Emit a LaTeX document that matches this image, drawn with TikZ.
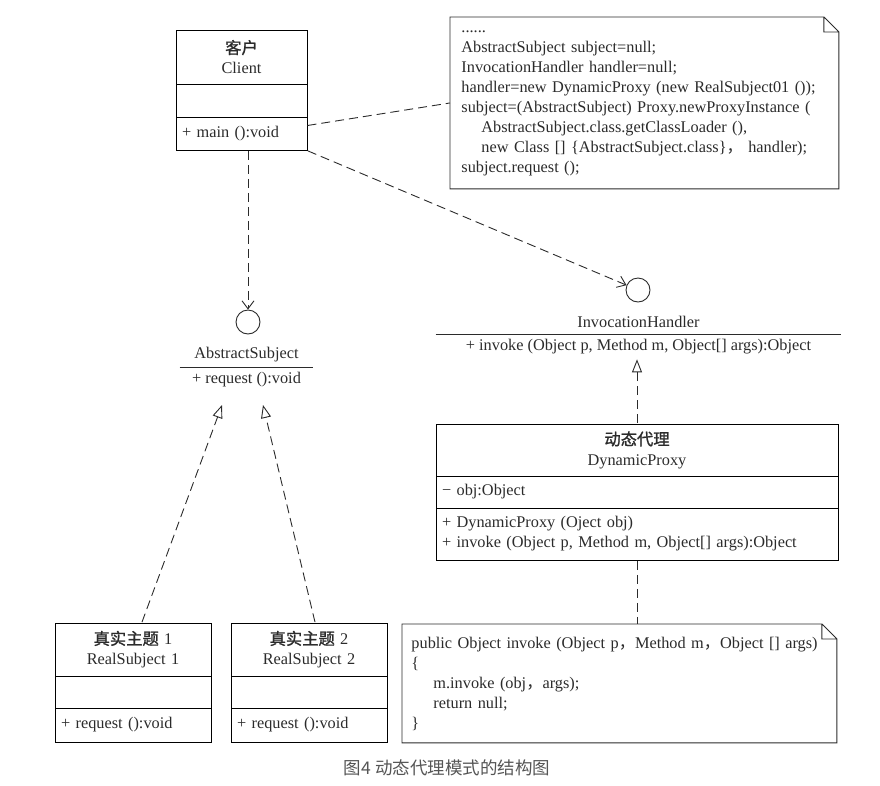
\documentclass[tikz,border=0pt]{standalone}
\usepackage{fontspec}
\setmainfont{Liberation Serif}
\newfontfamily\cjk{Noto Sans CJK SC}[AutoFakeBold=1.2]
\usetikzlibrary{arrows.meta, calc, matrix, positioning}
\definecolor{umlline}{HTML}{2B2B2B}
\definecolor{captiongray}{HTML}{555555}

\begin{document}
\begin{tikzpicture}[x=1pt, y=-1pt, line width=0.9pt, color=umlline,
	font=\fontsize{16.3}{20}\selectfont,
	classbox/.style={matrix of nodes, inner sep=0pt, row sep=-\pgflinewidth,
		nodes in empty cells, nodes={draw, inner xsep=6pt, inner ysep=0pt, align=left}},
	codenote/.style={align=left, inner xsep=11pt, inner ysep=0pt},
	iface/.style={circle, draw, minimum size=24pt, inner sep=0pt},
	dep/.style={dash pattern=on 9pt off 5pt, -{Straight Barb[length=8pt, width=12pt]}},
	realize/.style={dash pattern=on 9pt off 5pt, -{Triangle[open, length=13pt, width=10pt]}},
	link/.style={dash pattern=on 9pt off 5pt}]
	
	\useasboundingbox (0,0) rectangle (880,785);
	
	% classes
	\matrix (client) [classbox, nodes={text width=119pt},
	row 1/.style={nodes={minimum height=54pt, align=center}},
	row 2/.style={nodes={minimum height=33pt}},
	row 3/.style={nodes={minimum height=33pt}}] at (241.5,90)
	{
		{{\cjk\bfseries 客户}\\Client} \\
		\\
		+ main ():void \\
	};
	
	\matrix (rs1) [classbox, nodes={text width=144pt},
	row 1/.style={nodes={minimum height=53pt, align=center}},
	row 2/.style={nodes={minimum height=32pt}},
	row 3/.style={nodes={minimum height=34pt}}] at (133,682.5)
	{
		{{\cjk\bfseries 真实主题} 1\\RealSubject 1} \\
		\\
		+ request ():void \\
	};
	
	\matrix (rs2) [classbox, nodes={text width=144pt},
	row 1/.style={nodes={minimum height=53pt, align=center}},
	row 2/.style={nodes={minimum height=32pt}},
	row 3/.style={nodes={minimum height=34pt}}] at (309,682.5)
	{
		{{\cjk\bfseries 真实主题} 2\\RealSubject 2} \\
		\\
		+ request ():void \\
	};
	
	\matrix (dp) [classbox, nodes={text width=390pt},
	row 1/.style={nodes={minimum height=52pt, align=center}},
	row 2/.style={nodes={minimum height=32pt}},
	row 3/.style={nodes={minimum height=52pt}}] at (637,492)
	{
		{{\cjk\bfseries 动态代理}\\DynamicProxy} \\
		− obj:Object \\
		{+ DynamicProxy (Oject obj)\\+ invoke (Object p, Method m, Object[] args):Object} \\
	};
	
	% interfaces
	\node[iface] (asc) at (248,322) {};
	\node[minimum width=133pt, minimum height=24pt] (asn) at (246.5,355) {AbstractSubject};
	\node[below=0pt of asn, minimum height=24pt] (asop) {+ request ():void};
	\draw (asn.south west) -- (asn.south east);
	
	\node[iface] (ihc) at (638,290) {};
	\node[minimum width=405pt, minimum height=24pt] (ihn) at (638.5,322) {InvocationHandler};
	\node[below=0pt of ihn, minimum height=24pt] (ihop) {+ invoke (Object p, Method m, Object[] args):Object};
	\draw (ihn.south west) -- (ihn.south east);
	
	% notes
	\node[codenote, text width=366pt, minimum height=171pt, anchor=north west] (code1) at (450,17)
	{......\\
		AbstractSubject subject=null;\\
		InvocationHandler handler=null;\\
		handler=new DynamicProxy (new RealSubject01 ());\\
		subject=(AbstractSubject) Proxy.newProxyInstance (\\
		\hspace*{20pt}AbstractSubject.class.getClassLoader (),\\
		\hspace*{20pt}new Class [] \{AbstractSubject.class\}{\cjk ，} handler);\\
		subject.request ();};
	
	\node[codenote, inner xsep=9pt, text width=416pt, minimum height=118pt, anchor=north west] (code2) at (402,624)
	{public Object invoke (Object p{\cjk ，}Method m{\cjk ，}Object [] args)\\
		\{\\
		\hspace*{22pt}m.invoke (obj{\cjk ，}args);\\
		\hspace*{22pt}return null;\\
		\}};
	
	\foreach \n in {code1,code2}
	\draw ([xshift=-15pt]\n.north east) -- (\n.north west) -- (\n.south west) -- (\n.south east)
	-- ([yshift=-15pt]\n.north east) -- cycle
	([xshift=-15pt]\n.north east) |- ([yshift=-15pt]\n.north east);
	
	% connectors
	\coordinate (astip1) at (222,405);
	\coordinate (astip2) at (263,405);
	
	\draw[dep] (client.south -| asc.north) -- (asc.north);
	\draw[dep] (client.south east) -- (ihc);
	\draw[link] ([yshift=8pt]client-3-1.east) -- (code1.west);
	\draw[realize] (dp.north) -- (dp.north |- ihop.south);
	\draw[link] (dp.south) -- (dp.south |- code2.north);
	\draw[realize] ([xshift=9pt]rs1.north) -- (astip1);
	\draw[realize] ([xshift=6pt]rs2.north) -- (astip2);
	
	\node[font=\cjk\fontsize{17.5}{20}\selectfont, text=captiongray] (cap) at (447,768) {图4 动态代理模式的结构图};
	
\end{tikzpicture}
\end{document}
